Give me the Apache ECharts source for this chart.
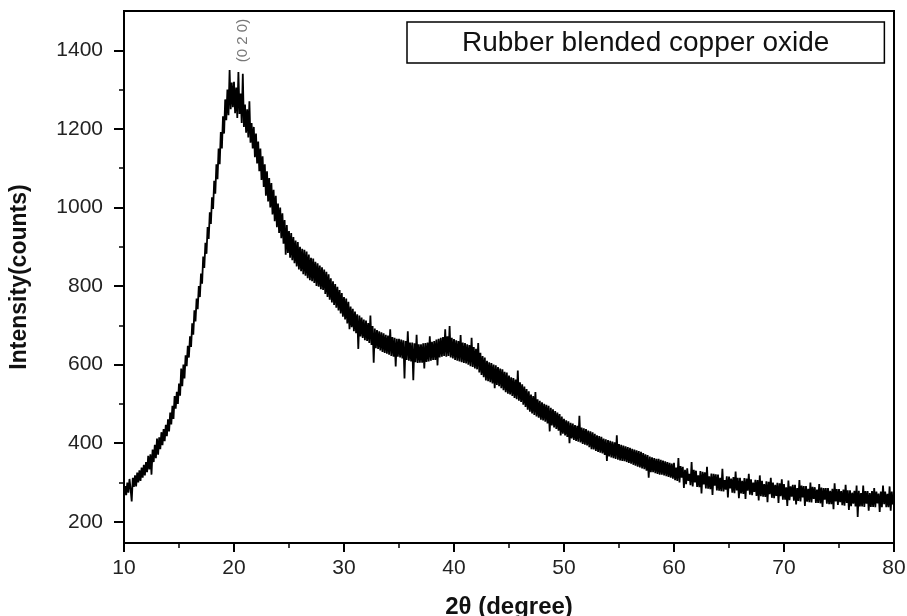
<!DOCTYPE html>
<html>
<head>
<meta charset="utf-8">
<script src="https://cdn.jsdelivr.net/npm/echarts@6/dist/echarts.min.js"></script>
<style>
  html, body { margin: 0; padding: 0; background: #fff; }
  #chart { width: 907px; height: 616px; }
</style>
</head>
<body>
<div id="chart"></div>
<script>
// Sampling grid of the scan (2θ, degrees)
const xStart = 10;
const xStep = 0.1;

// Intensity (counts), 0.1° apart
const seg10 = [262,291,268,300,274,309,283,252,312,289,318,290,325,300,331,304,338,312,345,318,
352,326,368,333,372,320,384,352,396,362,412,371,415,385,428,395,436,405,447,418,
461,430,478,448,495,462,520,488,531,500,552,521,590,545,600,565,624,596,648,618,
672,645,705,676,738,710,768,741,800,772,832,806,875,846,910,882,950,920,988,958,
1026,996,1068,1035,1110,1072,1150,1110,1192,1150,1232,1188,1275,1222,1300,1235,1350,1250,1318,1255];
const seg20 = [1320,1240,1305,1228,1345,1238,1290,1215,1340,1205,1262,1190,1250,1178,1270,1165,1215,1150,1205,1128,
1188,1112,1168,1092,1150,1070,1130,1052,1110,1030,1092,1015,1075,1000,1062,982,1045,965,1030,950,
1010,935,1000,922,985,908,968,880,955,884,940,872,935,866,925,858,916,850,912,842,
900,838,895,830,892,826,888,820,880,815,872,812,870,808,862,800,858,798,852,792,
848,790,842,780,836,772,830,765,820,758,812,752,805,745,798,738,790,730,782,722];
const seg30 = [772,715,768,705,760,690,748,695,742,685,735,680,728,640,725,672,720,668,715,662,
712,660,706,655,725,650,698,605,692,642,688,640,685,636,682,632,680,630,676,628,
674,625,690,622,670,620,668,595,666,620,666,618,664,616,662,565,660,612,685,610,
656,608,656,560,654,606,676,604,652,605,652,605,654,590,655,607,656,608,672,610,
658,612,660,612,664,598,666,618,668,620,670,622,690,620,672,622,698,618,668,616];
const seg40 = [665,612,662,610,660,608,675,606,656,604,655,603,652,600,650,596,668,594,645,590,
640,588,655,580,630,574,622,568,618,560,610,558,606,555,604,552,600,540,598,548,
594,545,590,540,588,535,582,530,580,526,572,524,568,520,566,515,562,512,585,508,
555,505,550,498,544,492,538,485,532,480,524,476,520,472,530,468,512,465,508,460,
504,458,500,455,498,450,495,430,490,445,486,440,482,436,478,432,474,420,468,424];
const seg50 = [462,420,458,416,456,400,452,412,450,408,446,406,444,404,470,402,440,398,438,396,
436,394,432,390,430,385,428,384,424,380,420,378,418,376,416,374,412,370,410,355,
408,366,406,364,404,362,402,360,420,358,398,356,396,355,394,354,392,352,390,350,
388,348,386,345,384,343,382,340,380,338,378,336,375,334,372,330,370,312,366,326,
364,326,362,324,360,322,360,320,358,320,356,318,354,316,352,314,350,312,348,310];
const seg60 = [350,306,338,304,362,300,342,312,340,286,332,296,336,304,322,293,352,290,332,300,
330,289,318,288,329,272,327,295,326,285,340,284,316,283,323,268,322,292,321,280,
320,279,312,278,335,277,306,282,316,262,315,285,310,274,314,273,328,280,312,260,
312,272,304,271,311,258,310,279,322,269,308,268,300,276,307,266,306,254,318,265,
304,264,296,263,303,250,302,270,312,261,300,260,294,266,299,248,298,265,308,256];
const seg70 = [296,256,288,240,305,255,290,264,294,254,294,244,286,253,306,252,292,262,291,240,
291,251,284,250,300,249,289,258,288,248,282,248,296,247,287,238,286,256,286,246,
286,245,279,245,284,232,298,252,283,243,283,250,278,242,282,241,294,248,280,230,
280,240,274,246,279,239,292,212,279,239,273,239,292,238,278,246,278,228,273,238,
278,238,286,237,277,247,272,225,277,237,292,245,277,237,271,237,290,228,277,244,262];

// Axis labels and annotation
const xTicks = [10, 20, 30, 40, 50, 60, 70, 80];
const yMajorTicks = [200, 400, 600, 800, 1000, 1200, 1400];
const yMinorTicks = [300, 500, 700, 900, 1100, 1300];
const peakLabel = '(0 2 0)';
const peakLabelPos = [20.8, 1425];
const seriesName = 'Rubber blended copper oxide';

const intensity = [].concat(seg10, seg20, seg30, seg40, seg50, seg60, seg70);
const points = intensity.map((v, i) => [Math.round((xStart + i * xStep) * 10) / 10, v]);

const FONT = 'Liberation Sans, Arial, sans-serif';
const chart = echarts.init(document.getElementById('chart'), null, { renderer: 'canvas' });

chart.setOption({
  animation: false,
  backgroundColor: '#fff',
  grid: {
    left: 124, right: 13, top: 11, bottom: 73,
    outerBoundsMode: 'none', containLabel: false,
    show: true, borderColor: '#000', borderWidth: 2, backgroundColor: 'transparent'
  },
  legend: {
    data: [{ name: seriesName, icon: 'none' }],
    left: 407, top: 22,
    itemWidth: 0, itemHeight: 0, itemGap: 0,
    padding: [7, 55, 6, 50],
    borderColor: '#000', borderWidth: 1.5,
    selectedMode: false,
    textStyle: { fontSize: 28, color: '#111', fontFamily: FONT }
  },
  xAxis: {
    type: 'value', min: 10, max: 80, interval: 10,
    axisLine: { show: true, lineStyle: { color: '#000', width: 2 } },
    axisTick: { show: true, length: 9, lineStyle: { color: '#000', width: 2 }, customValues: xTicks },
    minorTick: { show: true, splitNumber: 2, length: 5, lineStyle: { color: '#000', width: 1.5 } },
    splitLine: { show: false },
    axisLabel: { fontSize: 21, color: '#222', margin: 15, fontFamily: FONT, customValues: xTicks,
      formatter: v => String(v) },
    name: '2θ (degree)', nameLocation: 'middle', nameGap: 52,
    nameTextStyle: { fontSize: 24, fontWeight: 'bold', color: '#111', fontFamily: FONT }
  },
  yAxis: [{
    type: 'value', min: 146, max: 1500,
    axisLine: { show: true, lineStyle: { color: '#000', width: 2 } },
    axisTick: { show: true, length: 10, lineStyle: { color: '#000', width: 2 }, customValues: yMajorTicks },
    splitLine: { show: false },
    axisLabel: { fontSize: 21, color: '#222', margin: 21, fontFamily: FONT, customValues: yMajorTicks,
      formatter: v => String(v) },
    name: 'Intensity(counts)', nameLocation: 'middle', nameGap: 93,
    nameTextStyle: { fontSize: 23, fontWeight: 'bold', color: '#111', fontFamily: FONT }
  }, {
    type: 'value', min: 146, max: 1500, position: 'left',
    axisLine: { show: false },
    axisTick: { show: true, length: 5, lineStyle: { color: '#000', width: 1.5 }, customValues: yMinorTicks },
    splitLine: { show: false },
    axisLabel: { show: false }
  }],
  series: [{
    name: seriesName,
    type: 'line',
    data: points,
    showSymbol: false,
    symbol: 'none',
    sampling: null,
    lineStyle: { color: '#000', width: 1.8 },
    itemStyle: { color: '#000' },
    z: 3
  }, {
    name: 'annotation',
    type: 'scatter',
    data: [peakLabelPos],
    symbolSize: 1,
    itemStyle: { color: 'rgba(0,0,0,0)' },
    label: {
      show: true, formatter: peakLabel, position: 'inside', rotate: 90,
      fontSize: 15, color: '#555', fontFamily: FONT
    },
    silent: true, z: 4
  }]
});
</script>
</body>
</html>
